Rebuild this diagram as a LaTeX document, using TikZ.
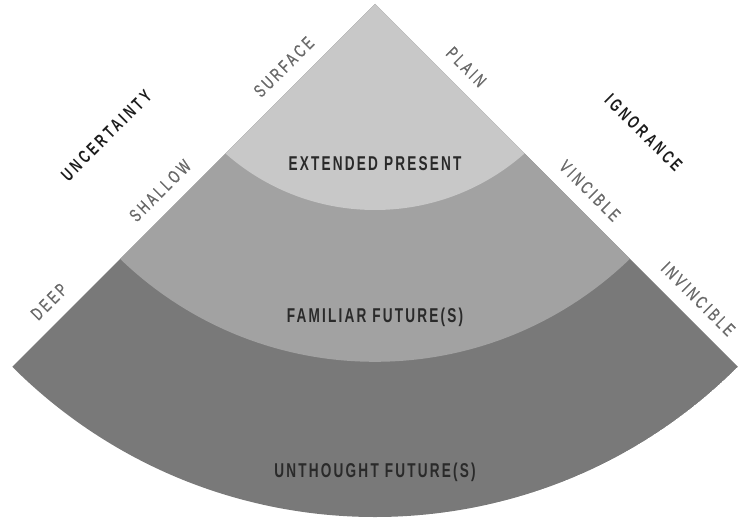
\documentclass[tikz,border=0pt]{standalone}
\usepackage{fontspec}
\usetikzlibrary{calc}
\newfontfamily\bandfont{Liberation Sans}[FakeStretch=0.68, LetterSpace=11]
\newfontfamily\sidefont{Liberation Sans}[FakeStretch=0.68, LetterSpace=17, FakeBold=0.7]
\newfontfamily\titlefont{Liberation Sans}[FakeStretch=0.68, LetterSpace=18]
\definecolor{cone}{HTML}{C8C8C8}
\definecolor{ctwo}{HTML}{A2A2A2}
\definecolor{cthree}{HTML}{797979}
\definecolor{bandtext}{HTML}{2A2A2A}
\definecolor{sidetext}{HTML}{686868}
\definecolor{titletext}{HTML}{1C1C1C}
\tikzset{
  bandlabel/.style={text=bandtext, font=\bandfont\bfseries\fontsize{20}{22}\selectfont, inner sep=0pt},
  sidelabel/.style={text=sidetext, font=\sidefont\fontsize{18}{20}\selectfont, inner sep=0pt},
  titlelabel/.style={text=titletext, font=\titlefont\bfseries\fontsize{18}{20}\selectfont, inner sep=0pt},
}
\begin{document}
\begin{tikzpicture}
\useasboundingbox (0pt,0pt) rectangle (738pt,523pt);
\coordinate (A) at (375pt,519pt);
\begin{scope}
  \clip (A) -- ++(225:513pt) arc[start angle=225, end angle=315, radius=513pt] -- cycle;
  \fill[cthree] (A) circle[radius=513pt];
  \fill[ctwo] ($(A)+(0pt,9.2pt)$) circle[radius=367pt];
  \fill[cone] ($(A)+(0pt,20pt)$) circle[radius=226pt];
\end{scope}
% band labels
\node[bandlabel] (ext) at (375pt,359pt) {EXTENDED PRESENT};
\node[bandlabel] (fam) at (375pt,206pt) {FAMILIAR FUTURE(S)};
\node[bandlabel] (unt) at (375pt,51pt) {UNTHOUGHT FUTURE(S)};
% left side labels
\node[sidelabel, rotate=45] (surface) at ($(A)+(225:109pt)+(135:20pt)$) {SURFACE};
\node[sidelabel, rotate=45] (shallow) at ($(A)+(225:284pt)+(135:20pt)$) {SHALLOW};
\node[sidelabel, rotate=45] (deep) at ($(A)+(225:441pt)+(135:20pt)$) {DEEP};
\node[titlelabel, rotate=45] (unc) at ($(A)+(225:283pt)+(135:97pt)$) {UNCERTAINTY};
% right side labels
\node[sidelabel, rotate=-45] (plain) at ($(A)+(315:109pt)+(45:20pt)$) {PLAIN};
\node[sidelabel, rotate=-45] (vincible) at ($(A)+(315:284pt)+(45:20pt)$) {VINCIBLE};
\node[sidelabel, rotate=-45] (invincible) at ($(A)+(315:437pt)+(45:20pt)$) {INVINCIBLE};
\node[titlelabel, rotate=-45] (ign) at ($(A)+(315:281pt)+(45:99pt)$) {IGNORANCE};
\end{tikzpicture}
\end{document}
